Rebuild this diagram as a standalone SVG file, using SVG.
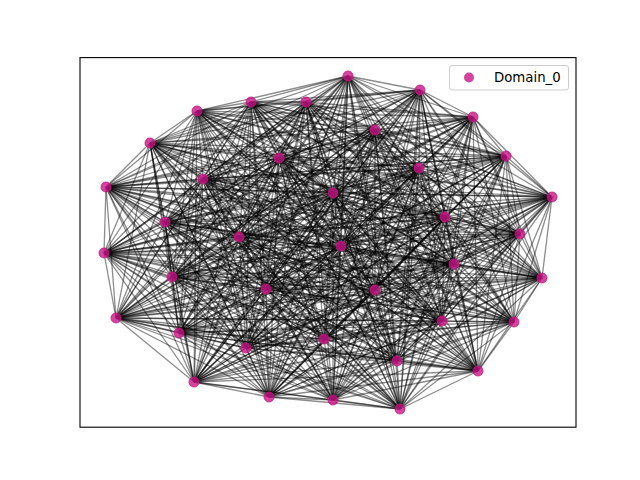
<svg xmlns="http://www.w3.org/2000/svg" width="640" height="480" viewBox="0 0 640 480">
<style>
.e path{fill:none;stroke:#000;stroke-opacity:0.45;stroke-width:1.3}
.n circle{fill:#c71585;fill-opacity:0.8;stroke:#c71585;stroke-opacity:0.8;stroke-width:1}
.lg{font-family:"DejaVu Sans",sans-serif;font-size:13.3px;fill:#000}
</style>
<rect width="640" height="480" fill="#fff"/>
<g id="connectors" class="e">
<path d="M348 76 420 90"/><path d="M348 76 473 117"/><path d="M348 76 506 156"/><path d="M348 76 552 197"/><path d="M348 76 520 234"/><path d="M348 76 542 278"/><path d="M348 76 514 322"/><path d="M348 76 478 371"/><path d="M348 76 400 409"/><path d="M348 76 333 400"/><path d="M348 76 269 397"/><path d="M348 76 194 382"/><path d="M348 76 179 333"/><path d="M348 76 116 318"/><path d="M348 76 104 253"/><path d="M348 76 106 187"/><path d="M348 76 150 143"/><path d="M348 76 197 111"/><path d="M348 76 251 102"/><path d="M348 76 306 102"/><path d="M348 76 375 130"/><path d="M348 76 279 158"/><path d="M348 76 203 179"/><path d="M348 76 165 222"/><path d="M348 76 172 277"/><path d="M348 76 246 348"/><path d="M348 76 324 339"/><path d="M348 76 397 361"/><path d="M348 76 442 321"/><path d="M348 76 454 264"/><path d="M348 76 445 217"/><path d="M348 76 419 168"/><path d="M348 76 333 193"/><path d="M348 76 341 246"/><path d="M348 76 239 237"/><path d="M348 76 266 289"/><path d="M348 76 375 290"/>
<path d="M420 90 473 117"/><path d="M420 90 506 156"/><path d="M420 90 552 197"/><path d="M420 90 520 234"/><path d="M420 90 542 278"/><path d="M420 90 514 322"/><path d="M420 90 478 371"/><path d="M420 90 400 409"/><path d="M420 90 333 400"/><path d="M420 90 269 397"/><path d="M420 90 194 382"/><path d="M420 90 179 333"/><path d="M420 90 116 318"/><path d="M420 90 104 253"/><path d="M420 90 106 187"/><path d="M420 90 150 143"/><path d="M420 90 197 111"/><path d="M420 90 251 102"/><path d="M420 90 306 102"/><path d="M420 90 375 130"/><path d="M420 90 279 158"/><path d="M420 90 203 179"/><path d="M420 90 165 222"/><path d="M420 90 172 277"/><path d="M420 90 246 348"/><path d="M420 90 324 339"/><path d="M420 90 397 361"/><path d="M420 90 442 321"/><path d="M420 90 454 264"/><path d="M420 90 445 217"/><path d="M420 90 419 168"/><path d="M420 90 333 193"/><path d="M420 90 341 246"/><path d="M420 90 239 237"/><path d="M420 90 266 289"/><path d="M420 90 375 290"/>
<path d="M473 117 506 156"/><path d="M473 117 552 197"/><path d="M473 117 520 234"/><path d="M473 117 542 278"/><path d="M473 117 514 322"/><path d="M473 117 478 371"/><path d="M473 117 400 409"/><path d="M473 117 333 400"/><path d="M473 117 269 397"/><path d="M473 117 194 382"/><path d="M473 117 179 333"/><path d="M473 117 116 318"/><path d="M473 117 104 253"/><path d="M473 117 106 187"/><path d="M473 117 150 143"/><path d="M473 117 197 111"/><path d="M473 117 251 102"/><path d="M473 117 306 102"/><path d="M473 117 375 130"/><path d="M473 117 279 158"/><path d="M473 117 203 179"/><path d="M473 117 165 222"/><path d="M473 117 172 277"/><path d="M473 117 246 348"/><path d="M473 117 324 339"/><path d="M473 117 397 361"/><path d="M473 117 442 321"/><path d="M473 117 454 264"/><path d="M473 117 445 217"/><path d="M473 117 419 168"/><path d="M473 117 333 193"/><path d="M473 117 341 246"/><path d="M473 117 239 237"/><path d="M473 117 266 289"/><path d="M473 117 375 290"/>
<path d="M506 156 552 197"/><path d="M506 156 520 234"/><path d="M506 156 542 278"/><path d="M506 156 514 322"/><path d="M506 156 478 371"/><path d="M506 156 400 409"/><path d="M506 156 333 400"/><path d="M506 156 269 397"/><path d="M506 156 194 382"/><path d="M506 156 179 333"/><path d="M506 156 116 318"/><path d="M506 156 104 253"/><path d="M506 156 106 187"/><path d="M506 156 150 143"/><path d="M506 156 197 111"/><path d="M506 156 251 102"/><path d="M506 156 306 102"/><path d="M506 156 375 130"/><path d="M506 156 279 158"/><path d="M506 156 203 179"/><path d="M506 156 165 222"/><path d="M506 156 172 277"/><path d="M506 156 246 348"/><path d="M506 156 324 339"/><path d="M506 156 397 361"/><path d="M506 156 442 321"/><path d="M506 156 454 264"/><path d="M506 156 445 217"/><path d="M506 156 419 168"/><path d="M506 156 333 193"/><path d="M506 156 341 246"/><path d="M506 156 239 237"/><path d="M506 156 266 289"/><path d="M506 156 375 290"/>
<path d="M552 197 520 234"/><path d="M552 197 542 278"/><path d="M552 197 514 322"/><path d="M552 197 478 371"/><path d="M552 197 400 409"/><path d="M552 197 333 400"/><path d="M552 197 269 397"/><path d="M552 197 194 382"/><path d="M552 197 179 333"/><path d="M552 197 116 318"/><path d="M552 197 104 253"/><path d="M552 197 106 187"/><path d="M552 197 150 143"/><path d="M552 197 197 111"/><path d="M552 197 251 102"/><path d="M552 197 306 102"/><path d="M552 197 375 130"/><path d="M552 197 279 158"/><path d="M552 197 203 179"/><path d="M552 197 165 222"/><path d="M552 197 172 277"/><path d="M552 197 246 348"/><path d="M552 197 324 339"/><path d="M552 197 397 361"/><path d="M552 197 442 321"/><path d="M552 197 454 264"/><path d="M552 197 445 217"/><path d="M552 197 419 168"/><path d="M552 197 333 193"/><path d="M552 197 341 246"/><path d="M552 197 239 237"/><path d="M552 197 266 289"/><path d="M552 197 375 290"/>
<path d="M520 234 542 278"/><path d="M520 234 514 322"/><path d="M520 234 478 371"/><path d="M520 234 400 409"/><path d="M520 234 333 400"/><path d="M520 234 269 397"/><path d="M520 234 194 382"/><path d="M520 234 179 333"/><path d="M520 234 116 318"/><path d="M520 234 104 253"/><path d="M520 234 106 187"/><path d="M520 234 150 143"/><path d="M520 234 197 111"/><path d="M520 234 251 102"/><path d="M520 234 306 102"/><path d="M520 234 375 130"/><path d="M520 234 279 158"/><path d="M520 234 203 179"/><path d="M520 234 165 222"/><path d="M520 234 172 277"/><path d="M520 234 246 348"/><path d="M520 234 324 339"/><path d="M520 234 397 361"/><path d="M520 234 442 321"/><path d="M520 234 454 264"/><path d="M520 234 445 217"/><path d="M520 234 419 168"/><path d="M520 234 333 193"/><path d="M520 234 341 246"/><path d="M520 234 239 237"/><path d="M520 234 266 289"/><path d="M520 234 375 290"/>
<path d="M542 278 514 322"/><path d="M542 278 478 371"/><path d="M542 278 400 409"/><path d="M542 278 333 400"/><path d="M542 278 269 397"/><path d="M542 278 194 382"/><path d="M542 278 179 333"/><path d="M542 278 116 318"/><path d="M542 278 104 253"/><path d="M542 278 106 187"/><path d="M542 278 150 143"/><path d="M542 278 197 111"/><path d="M542 278 251 102"/><path d="M542 278 306 102"/><path d="M542 278 375 130"/><path d="M542 278 279 158"/><path d="M542 278 203 179"/><path d="M542 278 165 222"/><path d="M542 278 172 277"/><path d="M542 278 246 348"/><path d="M542 278 324 339"/><path d="M542 278 397 361"/><path d="M542 278 442 321"/><path d="M542 278 454 264"/><path d="M542 278 445 217"/><path d="M542 278 419 168"/><path d="M542 278 333 193"/><path d="M542 278 341 246"/><path d="M542 278 239 237"/><path d="M542 278 266 289"/><path d="M542 278 375 290"/>
<path d="M514 322 478 371"/><path d="M514 322 400 409"/><path d="M514 322 333 400"/><path d="M514 322 269 397"/><path d="M514 322 194 382"/><path d="M514 322 179 333"/><path d="M514 322 116 318"/><path d="M514 322 104 253"/><path d="M514 322 106 187"/><path d="M514 322 150 143"/><path d="M514 322 197 111"/><path d="M514 322 251 102"/><path d="M514 322 306 102"/><path d="M514 322 375 130"/><path d="M514 322 279 158"/><path d="M514 322 203 179"/><path d="M514 322 165 222"/><path d="M514 322 172 277"/><path d="M514 322 246 348"/><path d="M514 322 324 339"/><path d="M514 322 397 361"/><path d="M514 322 442 321"/><path d="M514 322 454 264"/><path d="M514 322 445 217"/><path d="M514 322 419 168"/><path d="M514 322 333 193"/><path d="M514 322 341 246"/><path d="M514 322 239 237"/><path d="M514 322 266 289"/><path d="M514 322 375 290"/>
<path d="M478 371 400 409"/><path d="M478 371 333 400"/><path d="M478 371 269 397"/><path d="M478 371 194 382"/><path d="M478 371 179 333"/><path d="M478 371 116 318"/><path d="M478 371 104 253"/><path d="M478 371 106 187"/><path d="M478 371 150 143"/><path d="M478 371 197 111"/><path d="M478 371 251 102"/><path d="M478 371 306 102"/><path d="M478 371 375 130"/><path d="M478 371 279 158"/><path d="M478 371 203 179"/><path d="M478 371 165 222"/><path d="M478 371 172 277"/><path d="M478 371 246 348"/><path d="M478 371 324 339"/><path d="M478 371 397 361"/><path d="M478 371 442 321"/><path d="M478 371 454 264"/><path d="M478 371 445 217"/><path d="M478 371 419 168"/><path d="M478 371 333 193"/><path d="M478 371 341 246"/><path d="M478 371 239 237"/><path d="M478 371 266 289"/><path d="M478 371 375 290"/>
<path d="M400 409 333 400"/><path d="M400 409 269 397"/><path d="M400 409 194 382"/><path d="M400 409 179 333"/><path d="M400 409 116 318"/><path d="M400 409 104 253"/><path d="M400 409 106 187"/><path d="M400 409 150 143"/><path d="M400 409 197 111"/><path d="M400 409 251 102"/><path d="M400 409 306 102"/><path d="M400 409 375 130"/><path d="M400 409 279 158"/><path d="M400 409 203 179"/><path d="M400 409 165 222"/><path d="M400 409 172 277"/><path d="M400 409 246 348"/><path d="M400 409 324 339"/><path d="M400 409 397 361"/><path d="M400 409 442 321"/><path d="M400 409 454 264"/><path d="M400 409 445 217"/><path d="M400 409 419 168"/><path d="M400 409 333 193"/><path d="M400 409 341 246"/><path d="M400 409 239 237"/><path d="M400 409 266 289"/><path d="M400 409 375 290"/>
<path d="M333 400 269 397"/><path d="M333 400 194 382"/><path d="M333 400 179 333"/><path d="M333 400 116 318"/><path d="M333 400 104 253"/><path d="M333 400 106 187"/><path d="M333 400 150 143"/><path d="M333 400 197 111"/><path d="M333 400 251 102"/><path d="M333 400 306 102"/><path d="M333 400 375 130"/><path d="M333 400 279 158"/><path d="M333 400 203 179"/><path d="M333 400 165 222"/><path d="M333 400 172 277"/><path d="M333 400 246 348"/><path d="M333 400 324 339"/><path d="M333 400 397 361"/><path d="M333 400 442 321"/><path d="M333 400 454 264"/><path d="M333 400 445 217"/><path d="M333 400 419 168"/><path d="M333 400 333 193"/><path d="M333 400 341 246"/><path d="M333 400 239 237"/><path d="M333 400 266 289"/><path d="M333 400 375 290"/>
<path d="M269 397 194 382"/><path d="M269 397 179 333"/><path d="M269 397 116 318"/><path d="M269 397 104 253"/><path d="M269 397 106 187"/><path d="M269 397 150 143"/><path d="M269 397 197 111"/><path d="M269 397 251 102"/><path d="M269 397 306 102"/><path d="M269 397 375 130"/><path d="M269 397 279 158"/><path d="M269 397 203 179"/><path d="M269 397 165 222"/><path d="M269 397 172 277"/><path d="M269 397 246 348"/><path d="M269 397 324 339"/><path d="M269 397 397 361"/><path d="M269 397 442 321"/><path d="M269 397 454 264"/><path d="M269 397 445 217"/><path d="M269 397 419 168"/><path d="M269 397 333 193"/><path d="M269 397 341 246"/><path d="M269 397 239 237"/><path d="M269 397 266 289"/><path d="M269 397 375 290"/>
<path d="M194 382 179 333"/><path d="M194 382 116 318"/><path d="M194 382 104 253"/><path d="M194 382 106 187"/><path d="M194 382 150 143"/><path d="M194 382 197 111"/><path d="M194 382 251 102"/><path d="M194 382 306 102"/><path d="M194 382 375 130"/><path d="M194 382 279 158"/><path d="M194 382 203 179"/><path d="M194 382 165 222"/><path d="M194 382 172 277"/><path d="M194 382 246 348"/><path d="M194 382 324 339"/><path d="M194 382 397 361"/><path d="M194 382 442 321"/><path d="M194 382 454 264"/><path d="M194 382 445 217"/><path d="M194 382 419 168"/><path d="M194 382 333 193"/><path d="M194 382 341 246"/><path d="M194 382 239 237"/><path d="M194 382 266 289"/><path d="M194 382 375 290"/>
<path d="M179 333 116 318"/><path d="M179 333 104 253"/><path d="M179 333 106 187"/><path d="M179 333 150 143"/><path d="M179 333 197 111"/><path d="M179 333 251 102"/><path d="M179 333 306 102"/><path d="M179 333 375 130"/><path d="M179 333 279 158"/><path d="M179 333 203 179"/><path d="M179 333 165 222"/><path d="M179 333 172 277"/><path d="M179 333 246 348"/><path d="M179 333 324 339"/><path d="M179 333 397 361"/><path d="M179 333 442 321"/><path d="M179 333 454 264"/><path d="M179 333 445 217"/><path d="M179 333 419 168"/><path d="M179 333 333 193"/><path d="M179 333 341 246"/><path d="M179 333 239 237"/><path d="M179 333 266 289"/><path d="M179 333 375 290"/>
<path d="M116 318 104 253"/><path d="M116 318 106 187"/><path d="M116 318 150 143"/><path d="M116 318 197 111"/><path d="M116 318 251 102"/><path d="M116 318 306 102"/><path d="M116 318 375 130"/><path d="M116 318 279 158"/><path d="M116 318 203 179"/><path d="M116 318 165 222"/><path d="M116 318 172 277"/><path d="M116 318 246 348"/><path d="M116 318 324 339"/><path d="M116 318 397 361"/><path d="M116 318 442 321"/><path d="M116 318 454 264"/><path d="M116 318 445 217"/><path d="M116 318 419 168"/><path d="M116 318 333 193"/><path d="M116 318 341 246"/><path d="M116 318 239 237"/><path d="M116 318 266 289"/><path d="M116 318 375 290"/>
<path d="M104 253 106 187"/><path d="M104 253 150 143"/><path d="M104 253 197 111"/><path d="M104 253 251 102"/><path d="M104 253 306 102"/><path d="M104 253 375 130"/><path d="M104 253 279 158"/><path d="M104 253 203 179"/><path d="M104 253 165 222"/><path d="M104 253 172 277"/><path d="M104 253 246 348"/><path d="M104 253 324 339"/><path d="M104 253 397 361"/><path d="M104 253 442 321"/><path d="M104 253 454 264"/><path d="M104 253 445 217"/><path d="M104 253 419 168"/><path d="M104 253 333 193"/><path d="M104 253 341 246"/><path d="M104 253 239 237"/><path d="M104 253 266 289"/><path d="M104 253 375 290"/>
<path d="M106 187 150 143"/><path d="M106 187 197 111"/><path d="M106 187 251 102"/><path d="M106 187 306 102"/><path d="M106 187 375 130"/><path d="M106 187 279 158"/><path d="M106 187 203 179"/><path d="M106 187 165 222"/><path d="M106 187 172 277"/><path d="M106 187 246 348"/><path d="M106 187 324 339"/><path d="M106 187 397 361"/><path d="M106 187 442 321"/><path d="M106 187 454 264"/><path d="M106 187 445 217"/><path d="M106 187 419 168"/><path d="M106 187 333 193"/><path d="M106 187 341 246"/><path d="M106 187 239 237"/><path d="M106 187 266 289"/><path d="M106 187 375 290"/>
<path d="M150 143 197 111"/><path d="M150 143 251 102"/><path d="M150 143 306 102"/><path d="M150 143 375 130"/><path d="M150 143 279 158"/><path d="M150 143 203 179"/><path d="M150 143 165 222"/><path d="M150 143 172 277"/><path d="M150 143 246 348"/><path d="M150 143 324 339"/><path d="M150 143 397 361"/><path d="M150 143 442 321"/><path d="M150 143 454 264"/><path d="M150 143 445 217"/><path d="M150 143 419 168"/><path d="M150 143 333 193"/><path d="M150 143 341 246"/><path d="M150 143 239 237"/><path d="M150 143 266 289"/><path d="M150 143 375 290"/>
<path d="M197 111 251 102"/><path d="M197 111 306 102"/><path d="M197 111 375 130"/><path d="M197 111 279 158"/><path d="M197 111 203 179"/><path d="M197 111 165 222"/><path d="M197 111 172 277"/><path d="M197 111 246 348"/><path d="M197 111 324 339"/><path d="M197 111 397 361"/><path d="M197 111 442 321"/><path d="M197 111 454 264"/><path d="M197 111 445 217"/><path d="M197 111 419 168"/><path d="M197 111 333 193"/><path d="M197 111 341 246"/><path d="M197 111 239 237"/><path d="M197 111 266 289"/><path d="M197 111 375 290"/>
<path d="M251 102 306 102"/><path d="M251 102 375 130"/><path d="M251 102 279 158"/><path d="M251 102 203 179"/><path d="M251 102 165 222"/><path d="M251 102 172 277"/><path d="M251 102 246 348"/><path d="M251 102 324 339"/><path d="M251 102 397 361"/><path d="M251 102 442 321"/><path d="M251 102 454 264"/><path d="M251 102 445 217"/><path d="M251 102 419 168"/><path d="M251 102 333 193"/><path d="M251 102 341 246"/><path d="M251 102 239 237"/><path d="M251 102 266 289"/><path d="M251 102 375 290"/>
<path d="M306 102 375 130"/><path d="M306 102 279 158"/><path d="M306 102 203 179"/><path d="M306 102 165 222"/><path d="M306 102 172 277"/><path d="M306 102 246 348"/><path d="M306 102 324 339"/><path d="M306 102 397 361"/><path d="M306 102 442 321"/><path d="M306 102 454 264"/><path d="M306 102 445 217"/><path d="M306 102 419 168"/><path d="M306 102 333 193"/><path d="M306 102 341 246"/><path d="M306 102 239 237"/><path d="M306 102 266 289"/><path d="M306 102 375 290"/>
<path d="M375 130 279 158"/><path d="M375 130 203 179"/><path d="M375 130 165 222"/><path d="M375 130 172 277"/><path d="M375 130 246 348"/><path d="M375 130 324 339"/><path d="M375 130 397 361"/><path d="M375 130 442 321"/><path d="M375 130 454 264"/><path d="M375 130 445 217"/><path d="M375 130 419 168"/><path d="M375 130 333 193"/><path d="M375 130 341 246"/><path d="M375 130 239 237"/><path d="M375 130 266 289"/><path d="M375 130 375 290"/>
<path d="M279 158 203 179"/><path d="M279 158 165 222"/><path d="M279 158 172 277"/><path d="M279 158 246 348"/><path d="M279 158 324 339"/><path d="M279 158 397 361"/><path d="M279 158 442 321"/><path d="M279 158 454 264"/><path d="M279 158 445 217"/><path d="M279 158 419 168"/><path d="M279 158 333 193"/><path d="M279 158 341 246"/><path d="M279 158 239 237"/><path d="M279 158 266 289"/><path d="M279 158 375 290"/>
<path d="M203 179 165 222"/><path d="M203 179 172 277"/><path d="M203 179 246 348"/><path d="M203 179 324 339"/><path d="M203 179 397 361"/><path d="M203 179 442 321"/><path d="M203 179 454 264"/><path d="M203 179 445 217"/><path d="M203 179 419 168"/><path d="M203 179 333 193"/><path d="M203 179 341 246"/><path d="M203 179 239 237"/><path d="M203 179 266 289"/><path d="M203 179 375 290"/>
<path d="M165 222 172 277"/><path d="M165 222 246 348"/><path d="M165 222 324 339"/><path d="M165 222 397 361"/><path d="M165 222 442 321"/><path d="M165 222 454 264"/><path d="M165 222 445 217"/><path d="M165 222 419 168"/><path d="M165 222 333 193"/><path d="M165 222 341 246"/><path d="M165 222 239 237"/><path d="M165 222 266 289"/><path d="M165 222 375 290"/>
<path d="M172 277 246 348"/><path d="M172 277 324 339"/><path d="M172 277 397 361"/><path d="M172 277 442 321"/><path d="M172 277 454 264"/><path d="M172 277 445 217"/><path d="M172 277 419 168"/><path d="M172 277 333 193"/><path d="M172 277 341 246"/><path d="M172 277 239 237"/><path d="M172 277 266 289"/><path d="M172 277 375 290"/>
<path d="M246 348 324 339"/><path d="M246 348 397 361"/><path d="M246 348 442 321"/><path d="M246 348 454 264"/><path d="M246 348 445 217"/><path d="M246 348 419 168"/><path d="M246 348 333 193"/><path d="M246 348 341 246"/><path d="M246 348 239 237"/><path d="M246 348 266 289"/><path d="M246 348 375 290"/>
<path d="M324 339 397 361"/><path d="M324 339 442 321"/><path d="M324 339 454 264"/><path d="M324 339 445 217"/><path d="M324 339 419 168"/><path d="M324 339 333 193"/><path d="M324 339 341 246"/><path d="M324 339 239 237"/><path d="M324 339 266 289"/><path d="M324 339 375 290"/>
<path d="M397 361 442 321"/><path d="M397 361 454 264"/><path d="M397 361 445 217"/><path d="M397 361 419 168"/><path d="M397 361 333 193"/><path d="M397 361 341 246"/><path d="M397 361 239 237"/><path d="M397 361 266 289"/><path d="M397 361 375 290"/>
<path d="M442 321 454 264"/><path d="M442 321 445 217"/><path d="M442 321 419 168"/><path d="M442 321 333 193"/><path d="M442 321 341 246"/><path d="M442 321 239 237"/><path d="M442 321 266 289"/><path d="M442 321 375 290"/>
<path d="M454 264 445 217"/><path d="M454 264 419 168"/><path d="M454 264 333 193"/><path d="M454 264 341 246"/><path d="M454 264 239 237"/><path d="M454 264 266 289"/><path d="M454 264 375 290"/>
<path d="M445 217 419 168"/><path d="M445 217 333 193"/><path d="M445 217 341 246"/><path d="M445 217 239 237"/><path d="M445 217 266 289"/><path d="M445 217 375 290"/>
<path d="M419 168 333 193"/><path d="M419 168 341 246"/><path d="M419 168 239 237"/><path d="M419 168 266 289"/><path d="M419 168 375 290"/>
<path d="M333 193 341 246"/><path d="M333 193 239 237"/><path d="M333 193 266 289"/><path d="M333 193 375 290"/>
<path d="M341 246 239 237"/><path d="M341 246 266 289"/><path d="M341 246 375 290"/>
<path d="M239 237 266 289"/><path d="M239 237 375 290"/>
<path d="M266 289 375 290"/>
</g>
<g class="n">
<g id="n1"><circle cx="348" cy="76" r="5"/></g>
<g id="n2"><circle cx="420" cy="90" r="5"/></g>
<g id="n3"><circle cx="473" cy="117" r="5"/></g>
<g id="n4"><circle cx="506" cy="156" r="5"/></g>
<g id="n5"><circle cx="552" cy="197" r="5"/></g>
<g id="n6"><circle cx="520" cy="234" r="5"/></g>
<g id="n7"><circle cx="542" cy="278" r="5"/></g>
<g id="n8"><circle cx="514" cy="322" r="5"/></g>
<g id="n9"><circle cx="478" cy="371" r="5"/></g>
<g id="n10"><circle cx="400" cy="409" r="5"/></g>
<g id="n11"><circle cx="333" cy="400" r="5"/></g>
<g id="n12"><circle cx="269" cy="397" r="5"/></g>
<g id="n13"><circle cx="194" cy="382" r="5"/></g>
<g id="n14"><circle cx="179" cy="333" r="5"/></g>
<g id="n15"><circle cx="116" cy="318" r="5"/></g>
<g id="n16"><circle cx="104" cy="253" r="5"/></g>
<g id="n17"><circle cx="106" cy="187" r="5"/></g>
<g id="n18"><circle cx="150" cy="143" r="5"/></g>
<g id="n19"><circle cx="197" cy="111" r="5"/></g>
<g id="n20"><circle cx="251" cy="102" r="5"/></g>
<g id="n21"><circle cx="306" cy="102" r="5"/></g>
<g id="n22"><circle cx="375" cy="130" r="5"/></g>
<g id="n23"><circle cx="279" cy="158" r="5"/></g>
<g id="n24"><circle cx="203" cy="179" r="5"/></g>
<g id="n25"><circle cx="165" cy="222" r="5"/></g>
<g id="n26"><circle cx="172" cy="277" r="5"/></g>
<g id="n27"><circle cx="246" cy="348" r="5"/></g>
<g id="n28"><circle cx="324" cy="339" r="5"/></g>
<g id="n29"><circle cx="397" cy="361" r="5"/></g>
<g id="n30"><circle cx="442" cy="321" r="5"/></g>
<g id="n31"><circle cx="454" cy="264" r="5"/></g>
<g id="n32"><circle cx="445" cy="217" r="5"/></g>
<g id="n33"><circle cx="419" cy="168" r="5"/></g>
<g id="n34"><circle cx="333" cy="193" r="5"/></g>
<g id="n35"><circle cx="341" cy="246" r="5"/></g>
<g id="n36"><circle cx="239" cy="237" r="5"/></g>
<g id="n37"><circle cx="266" cy="289" r="5"/></g>
<g id="n38"><circle cx="375" cy="290" r="5"/></g>
</g>
<rect x="80" y="57.6" width="496" height="369.6" fill="none" stroke="#000" stroke-width="1.1"/>
<g id="legend">
<rect x="449.5" y="65.5" width="119" height="24.5" rx="2.5" fill="#fff" fill-opacity="0.8" stroke="#ccc" stroke-width="1"/>
<circle cx="469" cy="77.5" r="5" fill="#c71585" fill-opacity="0.8"/>
<text class="lg" x="494" y="82">Domain_0</text>
</g>
</svg>
